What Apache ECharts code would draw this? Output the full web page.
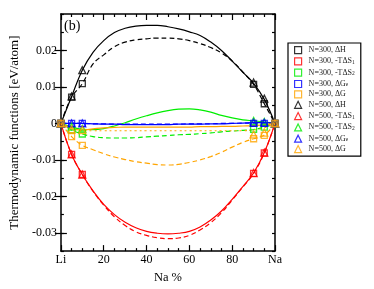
<!DOCTYPE html>
<html>
<head>
<meta charset="utf-8">
<script src="https://cdn.jsdelivr.net/npm/echarts@6/dist/echarts.min.js"></script>
<style>html,body{margin:0;padding:0;background:#fff;}#c{width:374px;height:289px;}</style>
</head>
<body>
<div id="c"></div>
<script>
// Composition axis (Na %)
var xCurve = [0,5,10,15,20,25,30,35,40,45,50,55,60,65,70,75,80,85,90,95,100];
var xMarks = [0,5,10,90,95,100];
var xTickLabels = {0:'Li',20:'20',40:'40',60:'60',80:'80',100:'Na'};
var yTickValues = [-0.03,-0.02,-0.01,0,0.01,0.02];

// Fitted curves (N=500 solid, N=300 dashed)
var dH500   = [0,0.0074,0.0146,0.0195,0.0227,0.0249,0.0261,0.0267,0.0269,0.0269,0.0265,0.0259,0.0251,0.0241,0.0223,0.0200,0.0171,0.0140,0.0110,0.0066,0];
var dH300   = [0,0.0072,0.0109,0.0163,0.0188,0.0210,0.0223,0.0229,0.0232,0.0234,0.0234,0.0232,0.0227,0.0219,0.0208,0.0193,0.0171,0.0141,0.0107,0.0054,0];
var tS1_500 = [0,-0.0085,-0.0140,-0.0185,-0.0222,-0.0250,-0.0271,-0.0286,-0.0296,-0.0301,-0.0303,-0.0301,-0.0296,-0.0284,-0.0265,-0.0240,-0.0208,-0.0173,-0.0136,-0.0080,0];
var tS1_300 = [0,-0.0085,-0.0140,-0.0186,-0.0224,-0.0256,-0.0280,-0.0297,-0.0307,-0.0313,-0.0316,-0.0314,-0.0307,-0.0292,-0.0272,-0.0245,-0.0210,-0.0174,-0.0137,-0.0081,0];
var tS2_500 = [0,-0.0010,-0.0016,-0.0017,-0.0014,-0.0007,0.0002,0.0012,0.0021,0.0029,0.0035,0.0039,0.0040,0.0037,0.0031,0.0022,0.0015,0.0010,0.0007,0.0004,0];
var tS2_300 = [0,-0.0018,-0.0029,-0.0036,-0.0039,-0.0040,-0.0040,-0.0039,-0.0037,-0.0035,-0.0033,-0.0031,-0.0030,-0.0028,-0.0026,-0.0023,-0.0021,-0.0019,-0.0017,-0.0010,0];
var dGe500  = [0,0,0,-0.0001,-0.0002,-0.0002,-0.0003,-0.0003,-0.0003,-0.0003,-0.0003,-0.0002,-0.0002,-0.0002,-0.0001,-0.0001,0,0.0001,0.0002,0.0002,0];
var dGe300  = [0,0,0,-0.0001,-0.0001,-0.0002,-0.0002,-0.0002,-0.0002,-0.0002,-0.0002,-0.0002,-0.0001,-0.0001,-0.0001,0,0,0.0001,0.0001,0.0001,0];
var dG500   = [0,-0.0015,-0.0018,-0.0015,-0.0012,-0.0011,-0.0010,-0.0010,-0.0010,-0.0010,-0.0010,-0.0010,-0.0010,-0.0009,-0.0009,-0.0008,-0.0008,-0.0007,-0.0006,-0.0004,0];
var dG300   = [0,-0.0036,-0.0060,-0.0072,-0.0083,-0.0092,-0.0099,-0.0105,-0.0109,-0.0113,-0.0114,-0.0112,-0.0107,-0.0100,-0.0091,-0.0079,-0.0065,-0.0052,-0.0042,-0.0032,0];
var dGdot   = [0,-0.0012,-0.0020,-0.0020,-0.0020,-0.0020,-0.0020,-0.0020,-0.0020,-0.0020,-0.0020,-0.0020,-0.0020,-0.0020,-0.0020,-0.0020,-0.0020,-0.0020,-0.0018,-0.0012,0];

// Simulation points (squares N=300, triangles N=500)
var mk_dH300  = [0,0.0072,0.0109,0.0107,0.0054,0];
var mk_tS1300 = [0,-0.0085,-0.0140,-0.0137,-0.0081,0];
var mk_tS2300 = [0,-0.0018,-0.0029,-0.0016,-0.0010,0];
var mk_dGe300 = [0,0,0,0,0,0];
var mk_dG300  = [0,-0.0036,-0.0060,-0.0042,-0.0033,0];
var mk_dH500  = [0,0.0074,0.0146,0.0112,0.0068,0];
var mk_tS1500 = [0,-0.0085,-0.0140,-0.0136,-0.0080,0];
var mk_tS2500 = [0,-0.0009,-0.0015,0.0007,0.0004,0];
var mk_dGe500 = [0,0,0,0.0002,0.0002,0];
var mk_dG500  = [0,-0.0016,-0.0018,-0.0030,-0.0025,0];

var legendNames = ['N=300, ΔH','N=300, -TΔS1','N=300, -TΔS2','N=300, ΔGe','N=300, ΔG',
                   'N=500, ΔH','N=500, -TΔS1','N=500, -TΔS2','N=500, ΔGe','N=500, ΔG'];
var legendRich = ['N=300, ΔH','N=300, -TΔS{s|1}','N=300, -TΔS{s|2}','N=300, ΔG{s|e}','N=300, ΔG',
                  'N=500, ΔH','N=500, -TΔS{s|1}','N=500, -TΔS{s|2}','N=500, ΔG{s|e}','N=500, ΔG'];

var BLACK='#000000', RED='#ff0000', GREEN='#00ee00', BLUE='#0000ff', ORANGE='#ffa500';
var FONT = '"Liberation Serif","DejaVu Serif",serif';

function zip(xs, ys){ return xs.map(function(x,i){return [x, ys[i]];}); }
function curve(name, ys, color, type){
  return {name:name, type:'line', data:zip(xCurve, ys), smooth:0.4, showSymbol:false, symbol:'none',
    lineStyle:{color:color, width:1.2, type:type}, silent:true, z:2, animation:false};
}
function marks(name, ys, color, sym){
  return {name:name, type:'scatter', data:zip(xMarks, ys), symbol:sym, symbolSize: sym==='rect'?6:7,
    itemStyle:{color:'rgba(0,0,0,0)', borderColor:color, borderWidth:1.3}, z:3, animation:false};
}

var series = [
  curve('c1', dH300, BLACK, [5,3]), curve('c2', dH500, BLACK, 'solid'),
  curve('c3', tS1_300, RED, [5,3]), curve('c4', tS1_500, RED, 'solid'),
  curve('c5', tS2_300, GREEN, [5,3]), curve('c6', tS2_500, GREEN, 'solid'),
  curve('c7', dGe300, BLUE, [5,3]), curve('c8', dGe500, BLUE, 'solid'),
  curve('c9', dG300, ORANGE, [5,3]), curve('c10', dG500, ORANGE, 'solid'), curve('c11', dGdot, ORANGE, [2,3]),
  marks(legendNames[0], mk_dH300, BLACK, 'rect'),
  marks(legendNames[5], mk_dH500, BLACK, 'triangle'),
  marks(legendNames[1], mk_tS1300, RED, 'rect'),
  marks(legendNames[6], mk_tS1500, RED, 'triangle'),
  marks(legendNames[2], mk_tS2300, GREEN, 'rect'),
  marks(legendNames[7], mk_tS2500, GREEN, 'triangle'),
  marks(legendNames[3], mk_dGe300, BLUE, 'rect'),
  marks(legendNames[8], mk_dGe500, BLUE, 'triangle'),
  marks(legendNames[4], mk_dG300, ORANGE, 'rect'),
  marks(legendNames[9], mk_dG500, ORANGE, 'triangle')
];

var legendColors = [BLACK,RED,GREEN,BLUE,ORANGE,BLACK,RED,GREEN,BLUE,ORANGE];
var legendData = legendNames.map(function(n,i){
  return {name:n, icon: i<5 ? 'rect' : 'triangle',
    itemStyle:{color:'rgba(0,0,0,0)', borderColor:legendColors[i], borderWidth:1.2}};
});

var chart = echarts.init(document.getElementById('c'), null, {renderer:'canvas'});
chart.setOption({
  backgroundColor:'#ffffff',
  animation:false,
  grid:{left:58.5, right:99, top:14, bottom:30, containLabel:false},
  xAxis:[
    {type:'value', min:0, max:100, interval:20, position:'bottom',
     name:'Na %', nameLocation:'middle', nameGap:16,
     nameTextStyle:{fontFamily:FONT, fontSize:12.5, color:'#000'},
     axisLine:{show:true, onZero:false, lineStyle:{color:'#000', width:1.5}},
     axisTick:{show:true, inside:true, length:6, lineStyle:{color:'#000', width:1.2}},
     minorTick:{show:true, splitNumber:4, length:3, lineStyle:{color:'#000', width:1.2}},
     axisLabel:{fontFamily:FONT, fontSize:12, color:'#000', margin:3,
       formatter:function(v){ return xTickLabels[v] !== undefined ? xTickLabels[v] : ''; }},
     splitLine:{show:false}},
    {type:'value', min:0, max:100, interval:20, position:'top',
     axisLine:{show:true, onZero:false, lineStyle:{color:'#000', width:1.5}},
     axisTick:{show:true, inside:true, length:6, lineStyle:{color:'#000', width:1.2}},
     minorTick:{show:true, splitNumber:4, length:3, lineStyle:{color:'#000', width:1.2}},
     axisLabel:{show:false}, splitLine:{show:false}}
  ],
  yAxis:[
    {type:'value', min:-0.035, max:0.03, interval:0.005, position:'left',
     name:'Thermodynamic functions [eV/atom]', nameLocation:'middle', nameGap:32, nameRotate:90,
     nameTextStyle:{fontFamily:FONT, fontSize:13, color:'#000'},
     axisLine:{show:true, onZero:false, lineStyle:{color:'#000', width:1.5}},
     axisTick:{show:true, inside:true, length:3, lineStyle:{color:'#000', width:1.2}},
     axisLabel:{fontFamily:FONT, fontSize:12, color:'#000', margin:4,
       formatter:function(v){
         var r = Math.round(v*1000);
         for (var i=0;i<yTickValues.length;i++){ if (Math.round(yTickValues[i]*1000)===r) return String(yTickValues[i]); }
         return '';
       }},
     splitLine:{show:false}},
    {type:'value', min:-0.035, max:0.03, interval:0.005, position:'right',
     axisLine:{show:true, onZero:false, lineStyle:{color:'#000', width:1.5}},
     axisTick:{show:true, inside:true, length:3, lineStyle:{color:'#000', width:1.2}},
     axisLabel:{show:false}, splitLine:{show:false}},
    {type:'value', min:-0.035, max:0.03, position:'left',
     axisLine:{show:false},
     axisTick:{show:true, inside:true, length:6, customValues:yTickValues, lineStyle:{color:'#000', width:1.2}},
     axisLabel:{show:false}, splitLine:{show:false}},
    {type:'value', min:-0.035, max:0.03, position:'right',
     axisLine:{show:false},
     axisTick:{show:true, inside:true, length:6, customValues:yTickValues, lineStyle:{color:'#000', width:1.2}},
     axisLabel:{show:false}, splitLine:{show:false}}
  ],
  legend:{
    orient:'vertical', left:288, top:43, width:60,
    data:legendData,
    itemWidth:7, itemHeight:7, itemGap:2.2,
    padding:[3,6,3,6],
    borderColor:'#000', borderWidth:1.2, backgroundColor:'#fff',
    selectedMode:false,
    textStyle:{fontFamily:FONT, fontSize:8, lineHeight:8, color:'#222', padding:[0,0,0,2],
      rich:{s:{fontFamily:FONT, fontSize:5.5, lineHeight:8, color:'#222', verticalAlign:'bottom', padding:[3,0,0,0]}}},
    formatter:function(n){ return legendRich[legendNames.indexOf(n)]; }
  },
  graphic:[{type:'text', left:64, top:19, style:{text:'(b)', font:'14px "Liberation Serif", serif', fill:'#000'}}],
  series:series
});
</script>
</body>
</html>
